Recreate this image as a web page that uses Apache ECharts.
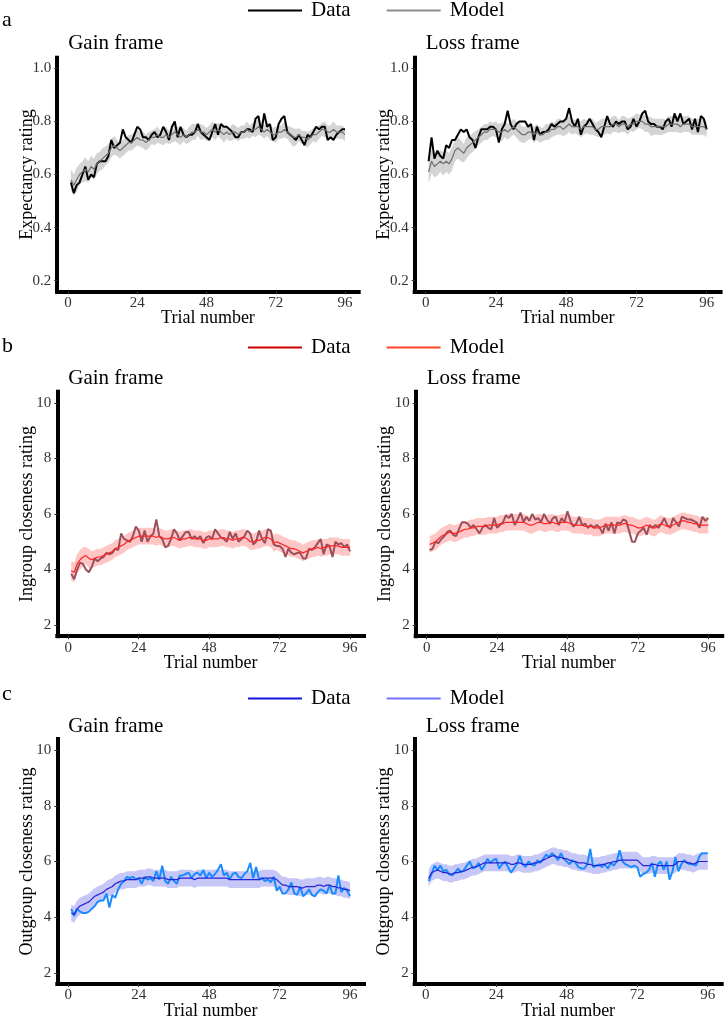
<!DOCTYPE html>
<html>
<head>
<meta charset="utf-8">
<script src="https://cdn.jsdelivr.net/npm/echarts@6/dist/echarts.min.js"></script>
<style>
html, body { margin: 0; padding: 0; background: #fff; }
#main { width: 725px; height: 1019px; }
</style>
</head>
<body>
<div id="main"></div>
<script>
// tick labels
var xTicks = [0, 24, 48, 72, 96];
var yTicksA = [0.2, 0.4, 0.6, 0.8, 1.0];
var yTicksBC = [2, 4, 6, 8, 10];

// a: expectancy rating, gain frame
var aGainData = [0.57,0.53,0.56,0.57,0.60,0.63,0.58,0.60,0.59,0.64,
  0.65,0.65,0.65,0.67,0.73,0.70,0.71,0.72,0.77,0.74,
  0.73,0.72,0.75,0.78,0.77,0.74,0.74,0.73,0.75,0.76,
  0.74,0.75,0.78,0.76,0.73,0.78,0.80,0.74,0.78,0.75,
  0.74,0.75,0.75,0.76,0.79,0.76,0.75,0.74,0.73,0.76,
  0.79,0.75,0.79,0.78,0.78,0.77,0.76,0.74,0.74,0.76,
  0.76,0.77,0.77,0.76,0.81,0.82,0.76,0.83,0.78,0.79,
  0.73,0.74,0.79,0.81,0.82,0.76,0.75,0.74,0.73,0.75,
  0.73,0.71,0.75,0.74,0.76,0.78,0.77,0.78,0.78,0.73,
  0.74,0.73,0.75,0.76,0.77,0.77];
var aGainModel = [0.58,0.56,0.58,0.60,0.61,0.62,0.61,0.63,0.62,0.64,
  0.65,0.66,0.67,0.68,0.70,0.71,0.70,0.69,0.70,0.71,
  0.72,0.72,0.73,0.74,0.73,0.73,0.72,0.73,0.74,0.74,
  0.75,0.74,0.74,0.75,0.74,0.75,0.76,0.75,0.74,0.75,
  0.74,0.75,0.76,0.76,0.77,0.76,0.76,0.75,0.76,0.77,
  0.76,0.77,0.76,0.75,0.76,0.75,0.76,0.76,0.75,0.76,
  0.76,0.77,0.76,0.77,0.77,0.78,0.77,0.76,0.77,0.76,
  0.75,0.75,0.76,0.76,0.77,0.76,0.75,0.74,0.74,0.75,
  0.74,0.74,0.73,0.74,0.75,0.75,0.76,0.77,0.77,0.76,
  0.76,0.77,0.76,0.76,0.76,0.75];
var aGainBand = [0.04,0.04,0.045,0.04,0.04,0.045,0.04,0.04,0.04,0.04,
  0.035,0.04,0.035,0.035,0.035,0.035,0.03,0.03,0.03,0.03,
  0.03,0.03,0.03,0.03,0.025,0.03,0.03,0.03,0.025,0.03,
  0.03,0.025,0.03,0.03,0.025,0.03,0.035,0.03,0.03,0.025,
  0.025,0.03,0.03,0.03,0.025,0.03,0.025,0.025,0.025,0.03,
  0.03,0.025,0.025,0.03,0.025,0.025,0.03,0.025,0.025,0.025,
  0.025,0.03,0.025,0.025,0.03,0.03,0.025,0.025,0.025,0.03,
  0.025,0.03,0.025,0.025,0.03,0.025,0.03,0.035,0.03,0.025,
  0.025,0.025,0.03,0.025,0.025,0.03,0.025,0.025,0.03,0.025,
  0.025,0.03,0.025,0.025,0.025,0.025];

// a: expectancy rating, loss frame
var aLossData = [0.65,0.74,0.66,0.69,0.67,0.66,0.71,0.70,0.73,0.73,
  0.75,0.77,0.76,0.77,0.74,0.73,0.70,0.74,0.77,0.77,
  0.77,0.78,0.78,0.77,0.72,0.77,0.79,0.84,0.79,0.77,
  0.79,0.80,0.80,0.80,0.78,0.79,0.73,0.78,0.75,0.76,
  0.76,0.77,0.79,0.78,0.79,0.80,0.80,0.81,0.85,0.80,
  0.78,0.81,0.75,0.78,0.79,0.81,0.79,0.77,0.76,0.74,
  0.78,0.82,0.79,0.78,0.80,0.79,0.80,0.80,0.77,0.78,
  0.81,0.78,0.80,0.83,0.84,0.80,0.79,0.79,0.78,0.78,
  0.77,0.80,0.81,0.78,0.83,0.80,0.83,0.79,0.80,0.81,
  0.77,0.81,0.76,0.82,0.81,0.77];
var aLossModel = [0.61,0.65,0.63,0.64,0.65,0.64,0.65,0.64,0.66,0.69,
  0.70,0.69,0.68,0.70,0.71,0.72,0.73,0.74,0.75,0.76,
  0.76,0.77,0.77,0.77,0.76,0.76,0.77,0.76,0.77,0.78,
  0.77,0.76,0.75,0.75,0.76,0.76,0.75,0.76,0.75,0.75,
  0.76,0.76,0.77,0.77,0.78,0.78,0.77,0.78,0.79,0.78,
  0.78,0.78,0.77,0.78,0.78,0.78,0.78,0.77,0.77,0.78,
  0.78,0.78,0.78,0.79,0.79,0.78,0.79,0.79,0.78,0.79,
  0.79,0.80,0.80,0.80,0.79,0.79,0.78,0.78,0.78,0.78,
  0.78,0.78,0.79,0.79,0.79,0.79,0.78,0.79,0.79,0.79,
  0.78,0.78,0.78,0.78,0.78,0.77];
var aLossBand = [0.045,0.045,0.04,0.045,0.04,0.045,0.04,0.04,0.045,0.04,
  0.04,0.04,0.035,0.04,0.035,0.035,0.035,0.03,0.03,0.03,
  0.03,0.03,0.025,0.03,0.03,0.035,0.03,0.03,0.03,0.03,
  0.03,0.035,0.03,0.03,0.03,0.025,0.03,0.03,0.03,0.025,
  0.03,0.03,0.03,0.025,0.03,0.03,0.025,0.03,0.03,0.03,
  0.025,0.03,0.03,0.03,0.025,0.03,0.03,0.025,0.03,0.03,
  0.03,0.025,0.03,0.03,0.03,0.025,0.03,0.03,0.03,0.025,
  0.03,0.03,0.025,0.03,0.03,0.03,0.035,0.03,0.03,0.03,
  0.03,0.025,0.03,0.03,0.03,0.03,0.025,0.03,0.03,0.03,
  0.03,0.03,0.03,0.03,0.03,0.03];

// b: ingroup closeness rating, gain frame
var bGainData = [3.85,3.65,4.0,4.25,4.2,4.0,3.9,4.1,4.4,4.3,
  4.4,4.45,4.6,4.55,4.6,4.75,4.7,5.3,5.1,5.05,
  5.0,5.2,5.55,5.4,5.0,5.4,5.0,5.2,5.3,5.8,
  5.2,5.1,4.8,4.85,5.1,5.45,5.3,5.05,5.2,5.35,
  5.35,5.1,5.2,5.1,5.2,4.95,5.15,5.2,5.1,5.45,
  5.3,5.15,5.1,5.0,5.35,5.1,5.3,5.0,5.1,5.2,
  5.4,5.3,4.9,5.0,5.4,5.1,4.95,5.45,5.4,4.9,
  4.85,4.85,4.75,4.45,4.75,4.6,4.55,4.6,4.6,4.4,
  4.4,4.75,4.7,4.8,4.95,5.1,4.55,4.9,4.85,4.45,
  5.0,4.9,4.95,4.8,4.9,4.65];
var bGainModel = [3.95,3.9,4.2,4.35,4.45,4.5,4.4,4.35,4.4,4.45,
  4.45,4.5,4.55,4.6,4.65,4.75,4.8,4.85,4.9,5.0,
  5.05,5.1,5.15,5.2,5.2,5.2,5.2,5.2,5.2,5.15,
  5.2,5.15,5.1,5.1,5.15,5.15,5.1,5.05,5.1,5.1,
  5.15,5.15,5.1,5.1,5.1,5.05,5.05,5.1,5.1,5.1,
  5.1,5.15,5.15,5.1,5.1,5.05,5.1,5.1,5.15,5.15,
  5.1,5.0,5.0,5.05,5.05,5.1,5.15,5.15,5.1,4.95,
  5.0,4.95,4.9,4.85,4.8,4.75,4.75,4.7,4.65,4.6,
  4.65,4.7,4.75,4.75,4.8,4.75,4.8,4.8,4.85,4.85,
  4.85,4.85,4.8,4.8,4.8,4.8];
var bGainBand = [0.35,0.35,0.35,0.35,0.35,0.3,0.35,0.3,0.3,0.3,
  0.3,0.3,0.3,0.3,0.3,0.3,0.3,0.3,0.3,0.3,
  0.3,0.3,0.3,0.3,0.3,0.3,0.3,0.3,0.3,0.3,
  0.3,0.3,0.3,0.3,0.3,0.3,0.3,0.3,0.3,0.3,
  0.3,0.3,0.3,0.3,0.3,0.3,0.3,0.3,0.3,0.3,
  0.3,0.3,0.3,0.3,0.3,0.3,0.3,0.3,0.3,0.3,
  0.3,0.3,0.3,0.3,0.3,0.3,0.3,0.3,0.3,0.3,
  0.3,0.3,0.3,0.3,0.3,0.3,0.3,0.3,0.3,0.3,
  0.3,0.3,0.3,0.3,0.3,0.3,0.3,0.3,0.3,0.3,
  0.3,0.3,0.3,0.3,0.3,0.3];

// b: ingroup closeness rating, loss frame
var bLossData = [4.7,4.75,5.0,4.95,5.1,5.2,5.35,5.4,5.25,5.2,
  5.45,5.7,5.7,5.65,5.5,5.6,5.45,5.3,5.5,5.6,
  5.5,5.45,5.85,5.5,5.6,5.7,5.95,5.85,6.0,5.6,
  5.8,6.05,5.7,5.9,5.75,6.0,5.8,5.85,5.7,6.0,
  5.8,5.65,5.85,5.9,5.6,5.85,5.7,6.1,5.75,5.55,
  5.65,5.9,5.6,5.65,5.5,5.6,5.5,5.6,5.5,5.3,
  5.65,5.4,5.7,5.3,5.7,5.65,5.8,5.75,5.4,5.0,
  5.0,5.3,5.4,5.5,5.25,5.6,5.5,5.6,5.5,5.65,
  5.85,5.6,5.5,5.85,5.7,5.55,5.9,5.85,5.8,5.8,
  5.75,5.7,5.5,5.9,5.75,5.85];
var bLossModel = [4.9,4.95,5.0,5.1,5.2,5.25,5.3,5.35,5.3,5.3,
  5.35,5.4,5.45,5.45,5.5,5.5,5.55,5.55,5.55,5.55,
  5.6,5.6,5.6,5.6,5.65,5.65,5.7,5.7,5.7,5.7,
  5.7,5.7,5.7,5.65,5.6,5.6,5.65,5.7,5.7,5.65,
  5.65,5.7,5.7,5.65,5.65,5.7,5.7,5.7,5.65,5.6,
  5.6,5.6,5.6,5.55,5.55,5.55,5.5,5.5,5.5,5.55,
  5.6,5.6,5.6,5.6,5.6,5.6,5.65,5.65,5.6,5.6,
  5.55,5.5,5.5,5.55,5.6,5.55,5.5,5.5,5.6,5.65,
  5.6,5.55,5.55,5.6,5.65,5.7,5.75,5.75,5.7,5.7,
  5.65,5.65,5.6,5.6,5.6,5.6];
var bLossBand = [0.3,0.3,0.3,0.3,0.3,0.3,0.3,0.3,0.3,0.3,
  0.3,0.3,0.3,0.3,0.3,0.3,0.3,0.3,0.3,0.3,
  0.3,0.3,0.3,0.3,0.3,0.3,0.3,0.3,0.3,0.3,
  0.3,0.3,0.3,0.3,0.3,0.3,0.3,0.3,0.3,0.3,
  0.3,0.3,0.3,0.3,0.3,0.3,0.3,0.3,0.3,0.3,
  0.3,0.3,0.3,0.3,0.3,0.3,0.3,0.3,0.3,0.3,
  0.3,0.3,0.3,0.3,0.3,0.3,0.3,0.3,0.3,0.3,
  0.3,0.3,0.3,0.3,0.3,0.3,0.3,0.3,0.3,0.3,
  0.3,0.3,0.3,0.3,0.3,0.3,0.3,0.3,0.3,0.3,
  0.3,0.3,0.3,0.3,0.3,0.3];

// c: outgroup closeness rating, gain frame
var cGainData = [4.3,4.05,4.3,4.2,4.15,4.15,4.2,4.3,4.4,4.55,
  4.6,4.6,4.85,4.35,4.8,4.7,5.0,5.2,5.3,5.45,
  5.4,5.45,5.35,5.4,5.2,5.45,5.35,5.4,5.3,5.65,
  5.35,5.85,5.3,5.2,5.45,5.3,5.2,5.5,5.5,5.55,
  5.6,5.4,5.55,5.6,5.5,5.7,5.4,5.6,5.45,5.55,
  5.7,5.9,5.5,5.6,5.35,5.55,5.6,5.45,5.4,5.55,
  5.65,5.95,5.4,5.8,5.35,5.4,5.3,5.35,5.25,5.45,
  4.95,5.1,4.85,4.85,5.0,5.25,4.85,4.8,5.1,4.75,
  4.85,5.0,4.8,4.75,4.9,5.0,4.95,4.85,5.15,4.85,
  4.85,5.5,4.9,5.05,4.95,4.75];
var cGainModel = [4.15,4.1,4.3,4.4,4.45,4.5,4.55,4.65,4.75,4.8,
  4.85,4.9,5.0,5.05,5.1,5.2,5.25,5.3,5.3,5.35,
  5.35,5.35,5.35,5.4,5.4,5.4,5.45,5.45,5.4,5.4,
  5.4,5.4,5.4,5.35,5.35,5.35,5.35,5.4,5.4,5.4,
  5.4,5.4,5.35,5.4,5.4,5.4,5.4,5.4,5.4,5.4,
  5.4,5.4,5.4,5.4,5.35,5.35,5.35,5.35,5.35,5.35,
  5.35,5.35,5.35,5.35,5.35,5.4,5.4,5.4,5.4,5.4,
  5.35,5.25,5.15,5.15,5.1,5.1,5.1,5.1,5.05,5.05,
  5.1,5.1,5.1,5.1,5.15,5.15,5.1,5.15,5.15,5.1,
  5.1,5.05,5.05,5.0,5.0,4.95];
var cGainBand = [0.3,0.3,0.3,0.3,0.3,0.3,0.3,0.3,0.3,0.3,
  0.3,0.3,0.3,0.3,0.3,0.3,0.3,0.3,0.3,0.3,
  0.3,0.3,0.3,0.3,0.3,0.3,0.3,0.3,0.3,0.3,
  0.3,0.3,0.3,0.3,0.3,0.3,0.3,0.3,0.3,0.3,
  0.3,0.3,0.3,0.3,0.3,0.3,0.3,0.3,0.3,0.3,
  0.3,0.3,0.3,0.3,0.3,0.3,0.3,0.3,0.3,0.3,
  0.3,0.3,0.3,0.3,0.3,0.3,0.3,0.3,0.3,0.3,
  0.3,0.3,0.3,0.3,0.3,0.3,0.3,0.3,0.3,0.3,
  0.3,0.3,0.3,0.3,0.3,0.3,0.3,0.3,0.3,0.3,
  0.3,0.3,0.3,0.3,0.3,0.3];

// c: outgroup closeness rating, loss frame
var cLossData = [5.3,5.55,5.85,5.7,5.85,5.65,5.7,5.55,5.5,5.6,
  5.75,5.6,5.7,5.85,6.0,5.75,5.8,5.95,5.7,5.85,
  6.1,5.95,6.05,6.1,5.75,5.9,6.0,5.8,5.6,5.75,
  5.9,6.2,5.9,5.8,6.0,5.9,5.85,6.05,5.95,6.1,
  6.25,6.15,6.3,6.2,6.05,6.3,6.1,6.0,5.9,6.05,
  5.95,5.8,5.75,5.75,5.9,6.45,5.8,5.85,5.9,5.8,
  5.9,5.75,5.95,5.85,6.0,6.4,6.0,5.9,5.85,5.8,
  5.85,5.8,5.45,5.55,5.6,5.7,5.95,5.45,5.9,6.0,
  5.7,6.0,5.35,5.65,6.15,5.65,5.9,6.05,5.95,5.9,
  5.9,5.85,6.15,6.3,6.3,6.3];
var cLossModel = [5.4,5.6,5.65,5.7,5.65,5.6,5.6,5.55,5.55,5.6,
  5.6,5.65,5.65,5.7,5.75,5.8,5.8,5.85,5.9,5.95,
  5.95,5.95,5.95,5.95,5.95,5.95,5.95,5.95,5.9,5.9,
  5.95,5.95,5.9,5.9,5.9,5.9,5.95,5.95,6.0,6.05,
  6.1,6.15,6.2,6.2,6.15,6.15,6.1,6.1,6.05,6.0,
  6.0,5.95,5.95,5.95,5.9,5.9,5.85,5.85,5.85,5.9,
  5.9,5.95,5.95,6.0,6.0,6.05,6.05,6.05,6.05,6.05,
  6.05,6.05,5.95,5.85,5.85,5.85,5.9,5.9,5.85,5.85,
  5.85,5.85,5.85,5.85,5.9,6.0,6.0,6.0,5.95,5.95,
  5.9,5.95,6.0,6.0,6.0,6.0];
var cLossBand = [0.3,0.3,0.3,0.3,0.3,0.3,0.3,0.3,0.3,0.3,
  0.3,0.3,0.3,0.3,0.3,0.3,0.3,0.3,0.3,0.3,
  0.3,0.3,0.3,0.3,0.3,0.3,0.3,0.3,0.3,0.3,
  0.3,0.3,0.3,0.3,0.3,0.3,0.3,0.3,0.3,0.3,
  0.3,0.3,0.3,0.3,0.3,0.3,0.3,0.3,0.3,0.3,
  0.3,0.3,0.3,0.3,0.3,0.3,0.3,0.3,0.3,0.3,
  0.3,0.3,0.3,0.3,0.3,0.3,0.3,0.3,0.3,0.3,
  0.3,0.3,0.3,0.3,0.3,0.3,0.3,0.3,0.3,0.3,
  0.3,0.3,0.3,0.3,0.3,0.3,0.3,0.3,0.3,0.3,
  0.3,0.3,0.3,0.3,0.3,0.3];

var FONT = 'Liberation Serif';

var rows = [
    {letter: 'a', yName: 'Expectancy rating', yMin: 0.16, yMax: 1.04, yTicks: yTicksA, digits: 1,
     top: 57.7, height: 233.6, legendTop: 0, letterTop: 9, titleTop: 33,
     plot: {data: '#000000', model: '#6e6e6e', band: '#d4d4d4'},
     key: {data: '#000000', model: '#8c8c8c'}},
    {letter: 'b', yName: 'Ingroup closeness rating', yMin: 1.6, yMax: 10.4, yTicks: yTicksBC, digits: 0,
     top: 391.7, height: 244.5, legendTop: 337, letterTop: 335, titleTop: 368,
     plot: {data: '#9c4f5b', model: '#ff2424', band: '#ffc6c6'},
     key: {data: '#cc0000', model: '#ff4522'}},
    {letter: 'c', yName: 'Outgroup closeness rating', yMin: 1.6, yMax: 10.4, yTicks: yTicksBC, digits: 0,
     top: 739, height: 245, legendTop: 688, letterTop: 683, titleTop: 716,
     plot: {data: '#1a8cff', model: '#2323d8', band: '#c6c6f7'},
     key: {data: '#1414e0', model: '#7373ff'}}
];

var panels = [
    {row: 0, title: 'Gain frame', left: 57.2, width: 301.5, data: aGainData, model: aGainModel, band: aGainBand},
    {row: 0, title: 'Loss frame', left: 414.7, width: 305.9, data: aLossData, model: aLossModel, band: aLossBand},
    {row: 1, title: 'Gain frame', left: 57.3, width: 306.7, data: bGainData, model: bGainModel, band: bGainBand},
    {row: 1, title: 'Loss frame', left: 415.7, width: 306.5, data: bLossData, model: bLossModel, band: bLossBand},
    {row: 2, title: 'Gain frame', left: 57.3, width: 306.7, data: cGainData, model: cGainModel, band: cGainBand},
    {row: 2, title: 'Loss frame', left: 414.7, width: 307, data: cLossData, model: cLossModel, band: cLossBand}
];

function pairs(vals) {
    return vals.map(function (v, i) { return [i + 1, v]; });
}

// ribbon: one polygon through all [trial, low, high] rows of the series
function bandRenderer(color) {
    return function (params, api) {
        if (params.dataIndexInside !== 0) return null;
        var n = params.dataInsideLength, top = [], bottom = [];
        for (var k = 0; k < n; k++) {
            var t = api.value(0, k);
            top.push(api.coord([t, api.value(2, k)]));
            bottom.push(api.coord([t, api.value(1, k)]));
        }
        return {
            type: 'polygon',
            shape: {points: top.concat(bottom.reverse())},
            style: {fill: color}
        };
    };
}

var grids = [], xAxes = [], yAxes = [], series = [], titles = [], legends = [];

rows.forEach(function (r) {
    titles.push({
        text: r.letter, left: 2, top: r.letterTop, padding: 0,
        textStyle: {fontFamily: FONT, fontSize: 22, fontWeight: 'normal', color: '#000'}
    });
    legends.push({
        left: 248, top: r.legendTop, padding: 0, orient: 'horizontal',
        icon: 'rect', itemWidth: 54, itemHeight: 2, itemGap: 36, selectedMode: false,
        textStyle: {fontFamily: FONT, fontSize: 21, color: '#000', lineHeight: 16, padding: [0, 0, 0, 4]},
        data: [
            {name: 'Data', itemStyle: {color: r.key.data}, lineStyle: {color: r.key.data}},
            {name: 'Model', itemStyle: {color: r.key.model}, lineStyle: {color: r.key.model}}
        ]
    });
});

panels.forEach(function (p, i) {
    var r = rows[p.row];
    grids.push({left: p.left, top: r.top, width: p.width, height: r.height, containLabel: false, outerBoundsMode: 'none'});
    titles.push({
        text: p.title, left: p.left + 11, top: r.titleTop, padding: 0,
        textStyle: {fontFamily: FONT, fontSize: 21, fontWeight: 'normal', color: '#000'}
    });
    xAxes.push({
        type: 'value', gridIndex: i, min: -3.75, max: 100.75,
        name: 'Trial number', nameLocation: 'middle', nameGap: 18, nameMoveOverlap: false,
        nameTextStyle: {fontFamily: FONT, fontSize: 18, color: '#000'},
        axisLine: {onZero: false, lineStyle: {color: '#000', width: 4, cap: 'square'}},
        axisTick: {show: true, customValues: xTicks, length: 3, lineStyle: {color: '#333', width: 1}},
        axisLabel: {customValues: xTicks, margin: 4, fontFamily: FONT, fontSize: 15, color: '#333'},
        splitLine: {show: false}
    });
    yAxes.push({
        type: 'value', gridIndex: i, min: r.yMin, max: r.yMax,
        name: r.yName, nameLocation: 'middle', nameGap: 21, nameMoveOverlap: false,
        nameTextStyle: {fontFamily: FONT, fontSize: 18, color: '#000'},
        axisLine: {show: true, onZero: false, lineStyle: {color: '#000', width: 4, cap: 'square'}},
        axisTick: {show: true, customValues: r.yTicks, length: 3, lineStyle: {color: '#333', width: 1}},
        axisLabel: {
            customValues: r.yTicks, margin: 6, fontFamily: FONT, fontSize: 15, color: '#333',
            formatter: function (v) { return Number(v).toFixed(r.digits); }
        },
        splitLine: {show: false}
    });

    var ribbon = p.model.map(function (m, k) {
        return [k + 1, m - p.band[k], m + p.band[k]];
    });
    series.push({
        name: 'ribbon' + i, type: 'custom', xAxisIndex: i, yAxisIndex: i,
        data: ribbon, encode: {x: 0, y: [1, 2]}, silent: true, z: 1,
        renderItem: bandRenderer(r.plot.band)
    });
    series.push({
        name: 'Data', type: 'line', xAxisIndex: i, yAxisIndex: i,
        data: pairs(p.data), symbol: 'none', showSymbol: false,
        itemStyle: {color: r.plot.data},
        lineStyle: {color: r.plot.data, width: 2}, z: 3
    });
    series.push({
        name: 'Model', type: 'line', xAxisIndex: i, yAxisIndex: i,
        data: pairs(p.model), symbol: 'none', showSymbol: false,
        itemStyle: {color: r.plot.model},
        lineStyle: {color: r.plot.model, width: 1.2}, z: 4
    });
});

var myChart = echarts.init(document.getElementById('main'), null, {renderer: 'canvas'});
myChart.setOption({
    backgroundColor: '#fff',
    animation: false,
    title: titles,
    legend: legends,
    grid: grids,
    xAxis: xAxes,
    yAxis: yAxes,
    series: series
});
</script>
</body>
</html>
